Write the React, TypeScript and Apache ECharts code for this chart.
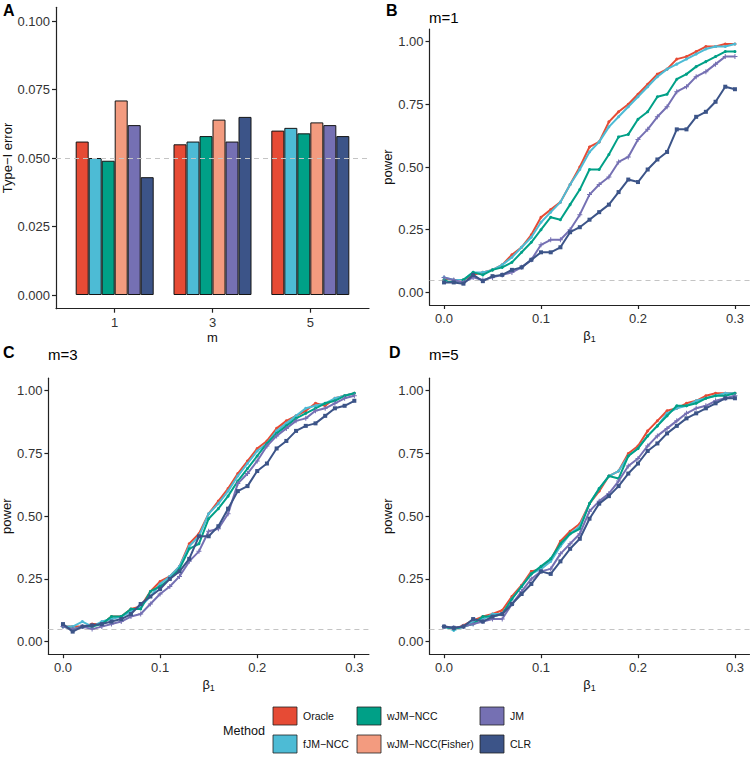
import React, { useEffect, useRef } from "react";
import * as echarts from "echarts";

// ---------- data ----------
const methods = ["Oracle", "fJM\u2212NCC", "wJM\u2212NCC", "wJM\u2212NCC(Fisher)", "JM", "CLR"];
const methodColors = ["#E64B35", "#4DBBD5", "#00A087", "#F39B7F", "#7570B3", "#3C5488"];

const mValues = [1, 3, 5];
const t1Oracle = [0.056, 0.055, 0.060];
const t1FJM = [0.050, 0.056, 0.061];
const t1WJM = [0.049, 0.058, 0.059];
const t1Fisher = [0.071, 0.064, 0.063];
const t1JM = [0.062, 0.056, 0.062];
const t1CLR = [0.043, 0.065, 0.058];
const typeITicks = [0, 0.025, 0.05, 0.075, 0.1];

const beta = [0, 0.01, 0.02, 0.03, 0.04, 0.05, 0.06, 0.07, 0.08, 0.09, 0.1, 0.11, 0.12, 0.13, 0.14, 0.15,
  0.16, 0.17, 0.18, 0.19, 0.2, 0.21, 0.22, 0.23, 0.24, 0.25, 0.26, 0.27, 0.28, 0.29, 0.3];
const betaTicks = [0, 0.1, 0.2, 0.3];
const powerTicks = [0, 0.25, 0.5, 0.75, 1];
const nominalLevel = 0.05;

// m = 1
const m1Oracle = [0.05, 0.05, 0.05, 0.07, 0.08, 0.09, 0.11, 0.15, 0.18, 0.23, 0.30, 0.33, 0.36, 0.43, 0.50, 0.58, 0.60, 0.68, 0.72, 0.75, 0.79, 0.83, 0.87, 0.89, 0.93, 0.94, 0.96, 0.98, 0.98, 0.99, 0.99];
const m1FJM = [0.06, 0.05, 0.05, 0.08, 0.08, 0.09, 0.11, 0.14, 0.18, 0.22, 0.28, 0.32, 0.36, 0.43, 0.49, 0.56, 0.60, 0.66, 0.70, 0.74, 0.78, 0.82, 0.86, 0.89, 0.91, 0.93, 0.95, 0.97, 0.98, 0.98, 0.99];
const m1WJM = [0.05, 0.04, 0.05, 0.08, 0.07, 0.09, 0.10, 0.12, 0.16, 0.20, 0.25, 0.30, 0.29, 0.35, 0.41, 0.49, 0.49, 0.55, 0.62, 0.63, 0.69, 0.72, 0.78, 0.79, 0.85, 0.87, 0.90, 0.92, 0.94, 0.96, 0.96];
const m1JM = [0.06, 0.05, 0.04, 0.06, 0.05, 0.06, 0.07, 0.08, 0.10, 0.13, 0.19, 0.21, 0.21, 0.25, 0.31, 0.39, 0.43, 0.46, 0.52, 0.54, 0.61, 0.65, 0.70, 0.74, 0.80, 0.82, 0.86, 0.88, 0.91, 0.94, 0.94];
const m1CLR = [0.04, 0.04, 0.035, 0.07, 0.045, 0.065, 0.07, 0.09, 0.10, 0.13, 0.16, 0.16, 0.18, 0.24, 0.26, 0.29, 0.32, 0.35, 0.40, 0.45, 0.44, 0.49, 0.53, 0.56, 0.65, 0.65, 0.70, 0.72, 0.76, 0.82, 0.81];

// m = 3
const m3Oracle = [0.06, 0.06, 0.06, 0.07, 0.07, 0.10, 0.10, 0.13, 0.14, 0.20, 0.24, 0.26, 0.30, 0.39, 0.43, 0.51, 0.56, 0.61, 0.67, 0.72, 0.77, 0.80, 0.85, 0.88, 0.90, 0.92, 0.95, 0.94, 0.97, 0.98, 0.99];
const m3FJM = [0.06, 0.06, 0.08, 0.06, 0.08, 0.09, 0.10, 0.12, 0.14, 0.18, 0.23, 0.26, 0.30, 0.38, 0.42, 0.51, 0.55, 0.60, 0.66, 0.71, 0.76, 0.79, 0.84, 0.87, 0.90, 0.93, 0.94, 0.95, 0.97, 0.98, 0.99];
const m3WJM = [0.06, 0.05, 0.06, 0.06, 0.07, 0.10, 0.10, 0.13, 0.13, 0.20, 0.22, 0.25, 0.29, 0.37, 0.39, 0.49, 0.53, 0.58, 0.64, 0.69, 0.74, 0.79, 0.83, 0.86, 0.89, 0.91, 0.93, 0.95, 0.96, 0.98, 0.99];
const m3JM = [0.06, 0.05, 0.06, 0.05, 0.06, 0.07, 0.08, 0.10, 0.11, 0.15, 0.19, 0.22, 0.26, 0.32, 0.36, 0.44, 0.45, 0.51, 0.63, 0.67, 0.72, 0.78, 0.82, 0.85, 0.88, 0.89, 0.92, 0.93, 0.95, 0.97, 0.98];
const m3CLR = [0.07, 0.04, 0.06, 0.065, 0.07, 0.08, 0.09, 0.11, 0.15, 0.18, 0.21, 0.25, 0.28, 0.33, 0.42, 0.42, 0.46, 0.53, 0.60, 0.62, 0.68, 0.71, 0.77, 0.80, 0.84, 0.86, 0.87, 0.90, 0.93, 0.94, 0.96];

// m = 5
const m5Oracle = [0.06, 0.05, 0.065, 0.085, 0.10, 0.11, 0.125, 0.18, 0.225, 0.28, 0.29, 0.325, 0.40, 0.44, 0.47, 0.55, 0.60, 0.66, 0.68, 0.75, 0.78, 0.84, 0.88, 0.92, 0.93, 0.95, 0.96, 0.98, 0.99, 0.99, 0.99];
const m5FJM = [0.06, 0.045, 0.06, 0.08, 0.09, 0.11, 0.11, 0.17, 0.22, 0.27, 0.29, 0.32, 0.38, 0.43, 0.46, 0.55, 0.61, 0.66, 0.68, 0.74, 0.77, 0.82, 0.86, 0.91, 0.93, 0.94, 0.96, 0.97, 0.98, 0.99, 0.99];
const m5WJM = [0.06, 0.05, 0.06, 0.07, 0.10, 0.10, 0.11, 0.17, 0.22, 0.27, 0.30, 0.33, 0.39, 0.43, 0.45, 0.55, 0.61, 0.66, 0.65, 0.74, 0.77, 0.82, 0.86, 0.90, 0.94, 0.94, 0.95, 0.97, 0.98, 0.98, 0.99];
const m5JM = [0.06, 0.055, 0.06, 0.07, 0.08, 0.09, 0.09, 0.15, 0.20, 0.25, 0.28, 0.29, 0.35, 0.39, 0.43, 0.52, 0.56, 0.59, 0.64, 0.70, 0.73, 0.78, 0.82, 0.85, 0.88, 0.91, 0.93, 0.94, 0.96, 0.97, 0.98];
const m5CLR = [0.06, 0.055, 0.06, 0.09, 0.08, 0.10, 0.11, 0.15, 0.19, 0.23, 0.28, 0.27, 0.32, 0.37, 0.41, 0.49, 0.55, 0.58, 0.62, 0.67, 0.71, 0.76, 0.79, 0.83, 0.86, 0.89, 0.91, 0.93, 0.95, 0.97, 0.97];

const typeIByMethod = [t1Oracle, t1FJM, t1WJM, t1Fisher, t1JM, t1CLR];
const powerPanels = [
  { title: "m=1", series: [m1Oracle, m1FJM, m1WJM, null, m1JM, m1CLR] },
  { title: "m=3", series: [m3Oracle, m3FJM, m3WJM, null, m3JM, m3CLR] },
  { title: "m=5", series: [m5Oracle, m5FJM, m5WJM, null, m5JM, m5CLR] },
];

// ---------- style ----------
const FONT = "'Liberation Sans', Arial, sans-serif";
const AXIS = "#222";
const TICKTXT = "#333";
const plusSymbol = "path://M-0.8,-4H0.8V-0.8H4V0.8H0.8V4H-0.8V0.8H-4V-0.8H-0.8Z";
const lineSymbols = ["circle", "circle", "circle", "rect", plusSymbol, "rect"];

const grids = [
  { left: 56, top: 7.3, width: 313, height: 301.4 },
  { left: 429.5, top: 29, width: 320, height: 276 },
  { left: 48.4, top: 378.2, width: 320.5, height: 276 },
  { left: 429.5, top: 378.2, width: 320, height: 276 },
];

function axisBase(gridIndex: number) {
  return {
    gridIndex,
    axisLine: { show: true, onZero: false, lineStyle: { color: AXIS, width: 1.2 } },
    splitLine: { show: false },
  };
}

function buildOption() {
  const xAxis: any[] = [];
  const yAxis: any[] = [];
  const series: any[] = [];
  const betaName = "{a|\u03b2}{b|1}";
  const betaRich = {
    a: { fontSize: 13, fontFamily: FONT, color: "#111", lineHeight: 16 },
    b: { fontSize: 9, fontFamily: FONT, color: "#111", lineHeight: 9, verticalAlign: "bottom" },
  };

  // Panel A
  xAxis.push({
    ...axisBase(0),
    type: "value",
    min: -0.2,
    max: 6.2,
    name: "m",
    nameLocation: "middle",
    nameGap: 22,
    nameTextStyle: { fontSize: 13, fontFamily: FONT, color: "#111" },
    axisTick: { show: true, length: 4, lineStyle: { color: AXIS, width: 1.2 }, customValues: mValues },
    axisLabel: { customValues: mValues, fontSize: 13, fontFamily: FONT, color: TICKTXT, margin: 7 },
  });
  yAxis.push({
    ...axisBase(0),
    type: "value",
    min: -0.005,
    max: 0.105,
    name: "Type\u2212I error",
    nameLocation: "middle",
    nameGap: 40,
    nameTextStyle: { fontSize: 13, fontFamily: FONT, color: "#111" },
    axisTick: { show: true, length: 4, lineStyle: { color: AXIS, width: 1.2 }, customValues: typeITicks },
    axisLabel: {
      customValues: typeITicks,
      fontSize: 13,
      fontFamily: FONT,
      color: TICKTXT,
      margin: 6,
      formatter: (v: number) => v.toFixed(3),
    },
  });
  methods.forEach((name, i) => {
    series.push({
      type: "bar",
      name,
      xAxisIndex: 0,
      yAxisIndex: 0,
      barWidth: 13,
      barGap: "0%",
      itemStyle: { color: methodColors[i], borderColor: "#151515", borderWidth: 1 },
      data: mValues.map((m, k) => [m, typeIByMethod[i][k]]),
      ...(i === 0
        ? {
            markLine: {
              silent: true,
              symbol: ["none", "none"],
              label: { show: false },
              z: 10,
              lineStyle: { color: "#C4C4C4", type: [5, 4], width: 1.1 },
              data: [{ yAxis: nominalLevel }],
            },
          }
        : {}),
    });
  });

  // Panels B, C, D
  powerPanels.forEach((p, pi) => {
    const gi = pi + 1;
    xAxis.push({
      ...axisBase(gi),
      type: "value",
      min: -0.015,
      max: 0.315,
      name: betaName,
      nameLocation: "middle",
      nameGap: 22,
      nameTextStyle: { rich: betaRich },
      axisTick: { show: true, length: 4, lineStyle: { color: AXIS, width: 1.2 }, customValues: betaTicks },
      axisLabel: {
        customValues: betaTicks,
        fontSize: 13,
        fontFamily: FONT,
        color: TICKTXT,
        margin: 7,
        formatter: (v: number) => v.toFixed(1),
      },
    });
    yAxis.push({
      ...axisBase(gi),
      type: "value",
      min: -0.05,
      max: 1.05,
      name: "power",
      nameLocation: "middle",
      nameGap: 31.5,
      nameTextStyle: { fontSize: 13, fontFamily: FONT, color: "#111" },
      axisTick: { show: true, length: 4, lineStyle: { color: AXIS, width: 1.2 }, customValues: powerTicks },
      axisLabel: {
        customValues: powerTicks,
        fontSize: 13,
        fontFamily: FONT,
        color: TICKTXT,
        margin: 6,
        formatter: (v: number) => v.toFixed(2),
      },
    });
    let first = true;
    p.series.forEach((vals, i) => {
      if (!vals) return;
      series.push({
        type: "line",
        name: methods[i],
        xAxisIndex: gi,
        yAxisIndex: gi,
        z: 2 + i,
        symbol: lineSymbols[i],
        symbolSize: i === 4 ? 5 : i === 5 ? 4 : 3,
        showSymbol: true,
        lineStyle: { color: methodColors[i], width: 2 },
        itemStyle: { color: methodColors[i] },
        data: beta.map((b, k) => [b, vals[k]]),
        ...(first
          ? {
              markLine: {
                silent: true,
                symbol: ["none", "none"],
                label: { show: false },
                lineStyle: { color: "#C4C4C4", type: [5, 4], width: 1.1 },
                data: [{ yAxis: nominalLevel }],
              },
            }
          : {}),
      });
      first = false;
    });
  });

  // titles & legend as graphics
  const graphic: any[] = [];
  const letters = [
    { t: "A", x: 3, y: 10 },
    { t: "B", x: 386, y: 10 },
    { t: "C", x: 3, y: 352 },
    { t: "D", x: 389, y: 352 },
  ];
  letters.forEach((l) =>
    graphic.push({
      type: "text",
      x: l.x,
      y: l.y,
      style: { text: l.t, font: `bold 16px ${FONT}`, fill: "#000", verticalAlign: "middle" },
    })
  );
  const titlePos = [
    { x: 429, y: 17 },
    { x: 48, y: 354 },
    { x: 429, y: 354 },
  ];
  powerPanels.forEach((p, i) =>
    graphic.push({
      type: "text",
      x: titlePos[i].x,
      y: titlePos[i].y,
      style: { text: p.title, font: `15px ${FONT}`, fill: "#000", verticalAlign: "middle" },
    })
  );
  graphic.push({
    type: "text",
    x: 223,
    y: 731,
    style: { text: "Method", font: `12.6px ${FONT}`, fill: "#111", verticalAlign: "middle" },
  });
  const colX = [273, 357, 480];
  const rowY = [707, 735];
  methods.forEach((name, i) => {
    const cx = colX[Math.floor(i / 2)];
    const ry = rowY[i % 2];
    graphic.push({
      type: "rect",
      shape: { x: cx, y: ry, width: 24, height: 18 },
      style: { fill: methodColors[i], stroke: "#222", lineWidth: 0.8 },
    });
    graphic.push({
      type: "text",
      x: cx + 30,
      y: ry + 9,
      style: { text: name, font: `10.5px ${FONT}`, fill: "#111", verticalAlign: "middle" },
    });
  });

  return {
    animation: false,
    backgroundColor: "#fff",
    textStyle: { fontFamily: FONT },
    grid: grids.map((g) => ({ ...g, containLabel: false, outerBoundsMode: "none" })),
    xAxis,
    yAxis,
    series,
    graphic,
  };
}

export default function App() {
  const ref = useRef<HTMLDivElement>(null);
  useEffect(() => {
    if (!ref.current) return;
    const chart = echarts.init(ref.current, null, { renderer: "svg" });
    chart.setOption(buildOption() as any);
    return () => chart.dispose();
  }, []);
  return (
    <div
      ref={ref}
      style={{ position: "absolute", left: 0, top: 0, width: 752, height: 759, background: "#fff" }}
    />
  );
}
